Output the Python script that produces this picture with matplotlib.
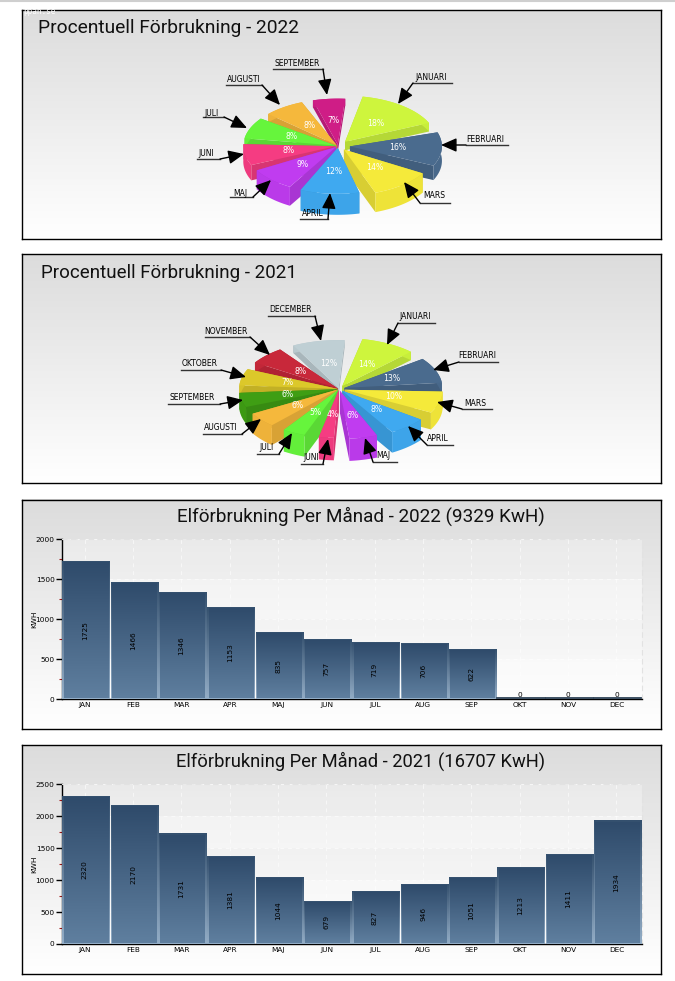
import numpy as np
import matplotlib
matplotlib.use("Agg")
import matplotlib.pyplot as plt
from matplotlib.patches import Polygon
from matplotlib.lines import Line2D
from matplotlib.colors import to_rgb, LinearSegmentedColormap

W, H = 675, 981
TITLE_FONT = ['Roboto', 'DejaVu Sans']

# ---- data ----
months_long = ['JANUARI', 'FEBRUARI', 'MARS', 'APRIL', 'MAJ', 'JUNI', 'JULI', 'AUGUSTI',
               'SEPTEMBER', 'OKTOBER', 'NOVEMBER', 'DECEMBER']
months_short = ['JAN', 'FEB', 'MAR', 'APR', 'MAJ', 'JUN', 'JUL', 'AUG', 'SEP', 'OKT', 'NOV', 'DEC']
pct_2022 = [18, 16, 14, 12, 9, 8, 8, 8, 7]
pct_2021 = [14, 13, 10, 8, 6, 4, 5, 6, 6, 7, 8, 12]
kwh_2022 = [1725, 1466, 1346, 1153, 835, 757, 719, 706, 622, 0, 0, 0]
kwh_2021 = [2320, 2170, 1731, 1381, 1044, 679, 827, 946, 1051, 1213, 1411, 1934]

# ---- style / layout ----
colors_2022 = ['#cef53d', '#4a6b8e', '#f5ea3a', '#3fa9f0', '#c03cf0', '#f53c82', '#66f53c', '#f5b83c', '#cf1d86']
colors_2021 = ['#cef53d', '#4a6b8e', '#f5ea3a', '#3fa9f0', '#c03cf0', '#f53c82', '#66f53c', '#f5b83c',
               '#3f9e14', '#dcc82a', '#c8283a', '#bfcfd4']
explode_2022 = [.12, .13, .10, .04, .03, .03, .03, .03, .03]
explode_2021 = [.07, .06, .06, .05, .04, .02, .02, .02, .02, .02, .02, .02]
# label: text centre x, y, underline x0, x1, y, arrow tip x, y  (pixels)
ann_2022 = [(431, 77, 413, 452, 83, 398, 104), (485, 139, 466, 508, 145, 441, 145),
            (434, 196, 420, 450, 203, 404, 182), (313, 213, 300, 328, 219, 330, 193),
            (240, 193, 230, 253, 197, 271, 180), (206, 154, 197, 220, 159, 244, 154),
            (212, 113, 203, 224, 117, 247, 128), (244, 80, 226, 262, 85, 280, 105),
            (297, 64, 273, 323, 69, 327, 95)]
ann_2021 = [(415, 317, 398, 435, 323, 387, 345), (477, 356, 459, 498, 362, 433, 370),
            (475, 404, 462, 492, 409, 437, 402), (438, 439, 427, 453, 445, 408, 426),
            (383, 456, 373, 397, 462, 365, 438), (311, 458, 301, 323, 464, 328, 439),
            (267, 448, 257, 279, 454, 292, 433), (221, 428, 203, 242, 434, 261, 419),
            (192, 398, 168, 220, 404, 243, 400), (200, 364, 181, 221, 370, 246, 377),
            (226, 332, 205, 250, 337, 270, 355), (290, 310, 268, 315, 316, 321, 341)]

fig = plt.figure(figsize=(W / 100, H / 100), dpi=100, facecolor='white')
bg_cmap = LinearSegmentedColormap.from_list('bg', ['#dcdcdc', '#ffffff'])
bar_in = LinearSegmentedColormap.from_list('bi', ['#2f4b6b', '#5f7f9f'])
bar_out = LinearSegmentedColormap.from_list('bo', ['#34506e', '#93adc6'])
grad = np.linspace(0, 1, 128)[:, None]


def rect(x0, y0, x1, y1):
    return [x0 / W, 1 - y1 / H, (x1 - x0) / W, (y1 - y0) / H]


def panel(y0, y1, title, tx, ty, ha='left', size=14):
    x0, x1 = 21.5, 660.5
    ax = fig.add_axes(rect(x0, y0, x1, y1))
    ax.imshow(grad, extent=(x0, x1, y1, y0), aspect='auto', cmap=bg_cmap, zorder=0)
    ax.set_xlim(x0, x1)
    ax.set_ylim(y1, y0)
    ax.set_xticks([])
    ax.set_yticks([])
    for s in ax.spines.values():
        s.set_linewidth(1.0)
        s.set_color('black')
    ax.text(tx, ty, title, fontsize=size, family=TITLE_FONT, color='#111111', ha=ha, va='center', zorder=20)
    return ax


def shade(c, f):
    return tuple(v * f for v in to_rgb(c))


def pie3d(ax, values, colors, explode, ann, cx, cy, rx, ry, depth0, warp_amp, warp_phase, warp_off, gap):
    def warp(t):
        return t + warp_off + warp_amp * np.cos(np.radians(t - warp_phase))

    edges = np.cumsum([0] + list(values)) / sum(values) * 360
    mids = (edges[:-1] + edges[1:]) / 2
    order = np.argsort(-np.cos(np.radians(mids)))
    for i in order:
        a, b = warp(edges[i]) + gap, warp(edges[i + 1]) - gap
        mid = np.radians(warp(mids[i]))
        ox = cx + explode[i] * rx * np.sin(mid)
        oy = cy - explode[i] * ry * np.cos(mid)
        th = np.radians(np.linspace(a, b, 24))
        xs = ox + rx * np.sin(th)
        ys = oy - ry * np.cos(th)
        depth = depth0 * (1 - 0.5 * np.cos(mid))
        c = colors[i]
        for px, py in ((xs[0], ys[0]), (xs[-1], ys[-1])):
            ax.add_patch(Polygon([(ox, oy), (px, py), (px, py + depth), (ox, oy + depth)],
                                 closed=True, fc=shade(c, .88), ec='none', zorder=5))
        rim = np.r_[np.c_[xs, ys], np.c_[xs, ys + depth][::-1]]
        ax.add_patch(Polygon(rim, closed=True, fc=shade(c, .97), ec='none', zorder=5))
        top = np.r_[[(ox, oy)], np.c_[xs, ys]]
        ax.add_patch(Polygon(top, closed=True, fc=c, ec='none', zorder=5))
        ax.text(ox + 0.52 * rx * np.sin(mid), oy - 0.52 * ry * np.cos(mid), f'{values[i]}%',
                fontsize=5.6, color='white', ha='center', va='center', zorder=6)
    for name, (tx, ty, u0, u1, uy, ax_, ay_) in zip(months_long, ann):
        ax.text(tx, ty, name, fontsize=5.5, color='black', ha='center', va='center', zorder=8)
        ax.add_line(Line2D([u0, u1], [uy, uy], color='#333333', lw=1.0, zorder=7))
        sx = u0 if abs(u0 - ax_) < abs(u1 - ax_) else u1
        ax.annotate('', xy=(ax_, ay_), xytext=(sx, uy), zorder=9,
                    arrowprops=dict(arrowstyle='-|>,head_length=0.95,head_width=0.42', color='black',
                                    lw=1.0, mutation_scale=10, shrinkA=0, shrinkB=0))


def barchart(y0, y1, values, ymax):
    ax = fig.add_axes(rect(61.8, y0, 641.8, y1), facecolor='none', zorder=5)
    x = np.arange(12)
    ax.set_xlim(-0.5, 11.5)
    ax.set_ylim(0, ymax)
    for lo in range(0, ymax, 500):
        strong = ((ymax - lo) // 500) % 2 == 0
        ax.axhspan(lo, lo + 500, color='white', alpha=.5 if strong else .3, lw=0, zorder=0)
    ax.set_xticks(x - 0.025)
    ax.set_xticklabels(months_short, fontsize=5.3)
    ax.set_yticks(range(0, ymax + 1, 500))
    ax.set_yticks(range(250, ymax, 500), minor=True)
    ax.tick_params(axis='y', which='major', length=4, width=1, labelsize=5.3, pad=1.2)
    ax.tick_params(axis='y', which='minor', length=2, width=.8, color='#a01818')
    ax.tick_params(axis='x', length=0, pad=2)
    ax.grid(True, which='major', color='white', ls=(0, (4, 4)), lw=.7, alpha=.6, zorder=1)
    ax.set_axisbelow(True)
    ax.set_ylabel('KWH', fontsize=5.3, labelpad=-1)
    for s in ('top', 'right'):
        ax.spines[s].set_color('#e2e2e2')
        ax.spines[s].set_linestyle((0, (4, 4)))
        ax.spines[s].set_linewidth(.8)
    for s in ('left', 'bottom'):
        ax.spines[s].set_color('black')
        ax.spines[s].set_linewidth(1.0)
    bw = 0.975
    bars = ax.bar(x, values, width=bw, color='none', zorder=3)
    inx = 1.3 / 48.33
    iny = 1.3 * ymax / (y1 - y0)
    for xi, v, bar in zip(x, values, bars):
        if v == 0:
            ax.plot([xi - bw / 2, xi + bw / 2], [ymax * .004] * 2, color='#2f4358', lw=1.3, zorder=3)
            ax.text(xi - .025, ymax * .006, '0', fontsize=5.3, ha='center', va='bottom', zorder=4)
            continue
        im = ax.imshow(grad, extent=(xi - bw / 2, xi + bw / 2, 0, v), aspect='auto', cmap=bar_out, zorder=3)
        im.set_clip_path(bar)
        ax.imshow(grad, extent=(xi - bw / 2 + inx, xi + bw / 2 - inx, iny, v - iny), aspect='auto',
                  cmap=bar_in, zorder=3.1)
        ax.text(xi - .025, v / 2, str(v), rotation=90, fontsize=5.3, ha='center', va='center',
                color='black', zorder=4)
    ax.set_xlim(-0.5, 11.5)
    ax.set_ylim(0, ymax)
    return ax


p1 = panel(9.5, 238.5, 'Procentuell Förbrukning - 2022', 38, 28, size=13.8)
pie3d(p1, pct_2022, colors_2022, explode_2022, ann_2022, 338, 146, 92, 46, 14, 9, 10, -1, 3.2)
p2 = panel(254.5, 483.5, 'Procentuell Förbrukning - 2021', 41, 273, size=13.5)
pie3d(p2, pct_2021, colors_2021, explode_2021, ann_2021, 339, 389, 98, 48, 15, 12, 310, 0, 4.2)
p3 = panel(499.5, 728.5, 'Elförbrukning Per Månad - 2022 (9329 KwH)', 360.5, 516, ha='center', size=13.6)
barchart(539.3, 699, kwh_2022, 2000)
p4 = panel(744.5, 973.5, 'Elförbrukning Per Månad - 2021 (16707 KwH)', 360.5, 761, ha='center', size=13.2)
barchart(784.3, 944, kwh_2021, 2500)

overlay = fig.add_axes([0, 0, 1, 1], facecolor='none', zorder=30)
overlay.set_xlim(0, W)
overlay.set_ylim(H, 0)
overlay.axis('off')
overlay.plot([0, W], [1, 1], color='#cfcfcf', lw=1.5)
overlay.text(23, 11, 'ppan.se', fontsize=5.5, color='white', family='DejaVu Sans Mono', va='center')
overlay.text(622, 972, '· ·   ·  ·', fontsize=5, color='white', va='center')

fig.savefig('out.png', dpi=100)
